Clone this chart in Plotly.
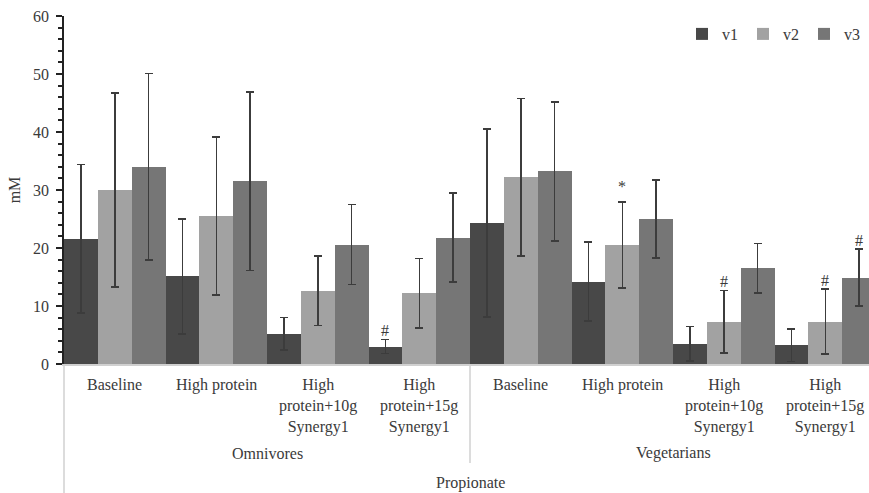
import plotly.graph_objects as go

# ---- data ----
categories = ["Baseline", "High protein", "High<br>protein+10g<br>Synergy1", "High<br>protein+15g<br>Synergy1",
              "Baseline", "High protein", "High<br>protein+10g<br>Synergy1", "High<br>protein+15g<br>Synergy1"]
groups = ["Omnivores", "Vegetarians"]
top_label = "Propionate"
series_names = ["v1", "v2", "v3"]
v1 = [21.6, 15.1, 5.2, 3.0, 24.3, 14.2, 3.5, 3.2]
v1_err = [12.8, 9.9, 2.8, 1.2, 16.2, 6.8, 3.0, 2.8]
v2 = [30.0, 25.5, 12.6, 12.2, 32.2, 20.5, 7.3, 7.3]
v2_err = [16.7, 13.6, 6.0, 6.0, 13.6, 7.4, 5.4, 5.6]
v3 = [34.0, 31.5, 20.6, 21.8, 33.2, 25.0, 16.5, 14.9]
v3_err = [16.1, 15.4, 6.9, 7.7, 12.0, 6.7, 4.3, 4.9]
# significance marks: (category index, series index, symbol)
marks = [(3, 0, "#"), (5, 1, "*"), (6, 1, "#"), (7, 1, "#"), (7, 2, "#")]

colors = ["#484848", "#a2a2a2", "#767676"]
FONT = "Liberation Serif, Times New Roman, DejaVu Serif, serif"
TXT = "#3a3a3a"

x_pos = list(range(len(categories)))
means = [v1, v2, v3]
errs = [v1_err, v2_err, v3_err]

fig = go.Figure()
for name, m, e, c in zip(series_names, means, errs, colors):
    fig.add_trace(go.Bar(
        x=x_pos, y=m, name=name, marker=dict(color=c, line=dict(width=0)),
        error_y=dict(type="data", array=e, visible=True, color="#3c3c3c", thickness=1.5, width=4),
    ))

W, H = 869, 493
L, R, T, B = 64, 0, 16, 129
plot_w = W - L - R
plot_h = H - T - B
cat_px = 101.5
x_max = -0.5 + plot_w / cat_px

annotations = []
# category labels
for i, c in enumerate(categories):
    annotations.append(dict(x=i, y=0, xref="x", yref="paper", text=c, showarrow=False,
                            yanchor="top", xanchor="center", yshift=-10,
                            font=dict(family=FONT, size=16, color=TXT)))
# group labels
n_per = len(categories) // len(groups)
for g, gname in enumerate(groups):
    annotations.append(dict(x=g * n_per + (n_per - 1) / 2, y=0, xref="x", yref="paper", text=gname,
                            showarrow=False, yanchor="middle", xanchor="center", yshift=-89,
                            font=dict(family=FONT, size=16, color=TXT)))
annotations.append(dict(x=(len(categories) - 1) / 2, y=0, xref="x", yref="paper", text=top_label,
                        showarrow=False, yanchor="middle", xanchor="center", yshift=-119,
                        font=dict(family=FONT, size=16, color=TXT)))
# significance marks
for ci, si, sym in marks:
    annotations.append(dict(x=ci + (si - 1) / 3, y=means[si][ci] + errs[si][ci], xref="x", yref="y",
                            text=sym, showarrow=False, yanchor="middle", xanchor="center",
                            yshift=9 if sym == "#" else 16,
                            font=dict(family=FONT, size=16, color=TXT)))

shapes = [
    dict(type="line", xref="paper", yref="paper", x0=0, x1=0, y0=0, y1=-B / plot_h,
         line=dict(color="#d0d0d0", width=1.5)),
    dict(type="line", xref="x", yref="paper", x0=n_per - 0.5, x1=n_per - 0.5, y0=0, y1=-(99) / plot_h,
         line=dict(color="#d0d0d0", width=1.5)),
]

fig.update_layout(
    width=W, height=H, margin=dict(l=L, r=R, t=T, b=B, pad=0),
    paper_bgcolor="white", plot_bgcolor="white",
    barmode="group", bargap=0, bargroupgap=0,
    font=dict(family=FONT, size=16, color=TXT),
    showlegend=True,
    legend=dict(orientation="h", x=0.995, xanchor="right", y=(plot_h - 18) / plot_h, yanchor="middle",
                font=dict(family=FONT, size=16, color=TXT), itemwidth=30,
                bgcolor="rgba(0,0,0,0)"),
    annotations=annotations, shapes=shapes,
    xaxis=dict(range=[-0.5, x_max], showticklabels=False, showgrid=False, zeroline=False,
               showline=True, linecolor="#d0d0d0", linewidth=1.5, ticks=""),
    yaxis=dict(range=[0, 60], dtick=10, showgrid=False, zeroline=False,
               showline=True, linecolor="#222222", linewidth=1.5,
               ticks="outside", ticklen=6, tickwidth=1.5, tickcolor="#222222",
               minor=dict(dtick=2, ticks="outside", ticklen=4, tickwidth=1.5, tickcolor="#222222"),
               ticklabelstandoff=4,
               tickfont=dict(family=FONT, size=16, color=TXT),
               title=dict(text="mM", standoff=8, font=dict(family=FONT, size=16, color=TXT))),
)

fig.write_html("out.html")
